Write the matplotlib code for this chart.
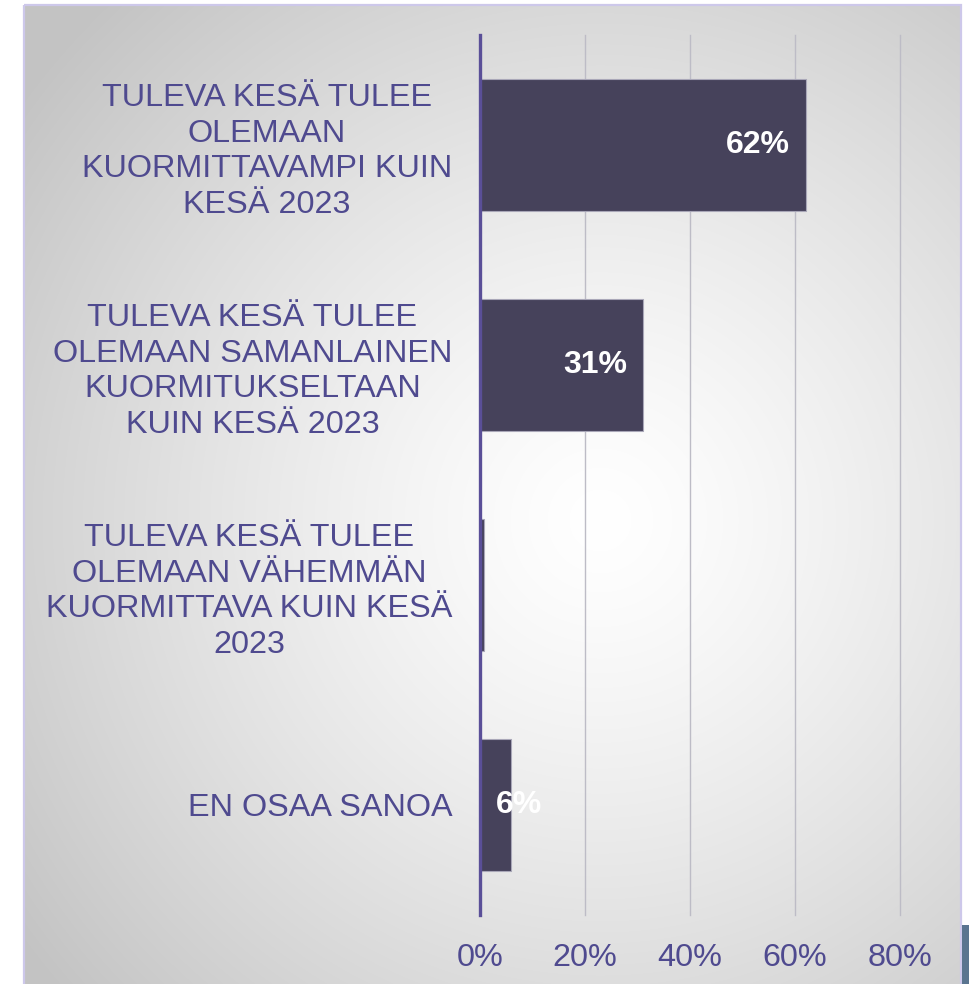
import numpy as np
import matplotlib
matplotlib.use("Agg")
import matplotlib.pyplot as plt
from matplotlib.patches import Rectangle

categories = [
    "TULEVA KESÄ TULEE\nOLEMAAN\nKUORMITTAVAMPI KUIN\nKESÄ 2023",
    "TULEVA KESÄ TULEE\nOLEMAAN SAMANLAINEN\nKUORMITUKSELTAAN\nKUIN KESÄ 2023",
    "TULEVA KESÄ TULEE\nOLEMAAN VÄHEMMÄN\nKUORMITTAVA KUIN KESÄ\n2023",
    "EN OSAA SANOA",
]
values = [62, 31, 0.7, 6]
value_labels = ["62%", "31%", "", "6%"]
xticks = [0, 20, 40, 60, 80]
xtick_labels = ["0%", "20%", "40%", "60%", "80%"]

TEXT = "#4f4a8f"
BAR = "#46425b"
FONT = "Liberation Sans"

W, H = 970, 984
fig = plt.figure(figsize=(W / 100, H / 100), dpi=100)
fig.patch.set_facecolor("white")

# background panel with radial gradient
bg = fig.add_axes([0, 0, 1, 1], zorder=0)
bg.set_xlim(0, W)
bg.set_ylim(H, 0)
bg.axis("off")
px0, px1, py0, py1 = 24, 961, 5, 984
xx, yy = np.meshgrid(np.arange(px0, px1), np.arange(py0, py1))
cx, cy = 600, 520
d = np.sqrt((xx - cx) ** 2 + ((yy - cy) * 1.0) ** 2)
R = 720.0
t = np.clip(d / R, 0, 1) ** 1.3
g = 1 - 0.235 * t
img = np.dstack([g, g, g])
bg.imshow(img, extent=(px0, px1, py1, py0), aspect="auto", interpolation="bilinear")
bg.add_patch(Rectangle((px0, py0), px1 - px0, py1 - py0 + 10, fill=False,
                       edgecolor="#cdc8ea", linewidth=1.6))
bg.add_patch(Rectangle((962, 925), 10, 70, facecolor="#5a7590", edgecolor="none"))

left = 480 / W
right = 900 / W
bottom = (H - 915) / H
top = (H - 35) / H
ax = fig.add_axes([left, bottom, right - left, top - bottom], zorder=1)
ax.patch.set_alpha(0)

y = np.arange(len(categories))
bars = ax.barh(y, values, height=0.6, color=BAR,
               edgecolor="#a9a7b8", linewidth=0.8, zorder=3)

for yi, v, lab in zip(y, values, value_labels):
    if not lab:
        continue
    if v >= 10:
        ax.annotate(lab, xy=(v, yi), xytext=(-11, 0), textcoords="offset points",
                    ha="right", va="center", color="white", fontsize=23,
                    fontweight="bold", family=FONT, zorder=5)
    else:
        ax.annotate(lab, xy=(0, yi), xytext=(11.5, 0), textcoords="offset points",
                    ha="left", va="center", color="white", fontsize=23,
                    fontweight="bold", family=FONT, zorder=5)

ax.set_xlim(0, 80)
ax.set_ylim(len(categories) - 0.5, -0.5)
ax.set_xticks(xticks)
ax.set_xticklabels(xtick_labels)
ax.set_yticks(y)
ax.set_yticklabels(categories)
for lbl in ax.get_yticklabels():
    lbl.set_multialignment("center")
    lbl.set_linespacing(1.25)
for lbl in ax.get_xticklabels() + ax.get_yticklabels():
    lbl.set_family(FONT)
    lbl.set_fontsize(23.3)
    lbl.set_color(TEXT)
ax.tick_params(axis="y", length=0, pad=20)
ax.tick_params(axis="x", length=0, pad=20)

ax.grid(axis="x", color="#bdbcc6", linewidth=1.0, zorder=1)
for gl in ax.get_xgridlines():
    gl.set_clip_on(False)
ax.set_axisbelow(True)
for s in ["top", "right", "bottom"]:
    ax.spines[s].set_visible(False)
ax.spines["left"].set_color("#5a4f98")
ax.spines["left"].set_linewidth(2.4)
ax.spines["left"].set_zorder(6)

fig.savefig("out.png", dpi=100)
